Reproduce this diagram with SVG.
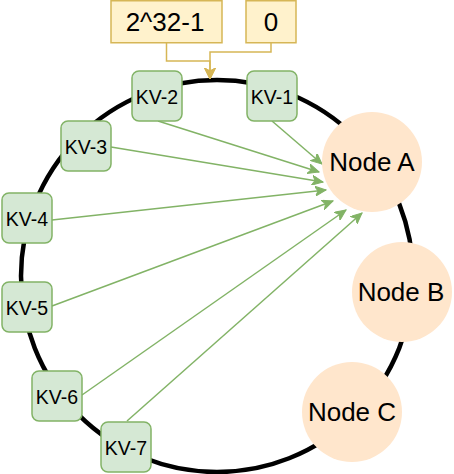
<svg xmlns="http://www.w3.org/2000/svg" width="454" height="474" viewBox="0 0 454 474">
<style>
.kv rect{fill:#d5e8d4;stroke:#82b366;stroke-width:1.5}
.lbl rect{fill:#fff2cc;stroke:#d6b656;stroke-width:1.5}
.node circle{fill:#ffe6cc;stroke:none}
text{font-family:"Liberation Sans",Arial,sans-serif;fill:#000;text-anchor:middle}
.kv text{font-size:19.5px}
.big{font-size:26px}
.g{stroke:#82b366;stroke-width:1.5;fill:none;marker-end:url(#ga)}
.y{stroke:#d6b656;stroke-width:1.5;fill:none}
</style>
<defs>
<marker id="ga" markerWidth="12" markerHeight="10" refX="11" refY="5" orient="auto" markerUnits="userSpaceOnUse">
<path d="M0,0 L11,5 L0,10 L3,5 Z" fill="#82b366" stroke="#82b366" stroke-width="1"/>
</marker>
<marker id="ya" markerWidth="12" markerHeight="12" refX="11" refY="5.5" orient="auto" markerUnits="userSpaceOnUse">
<path d="M0,0 L11,5.5 L0,11 L3,5.5 Z" fill="#d6b656" stroke="#d6b656" stroke-width="1"/>
</marker>
</defs>
<circle id="ring" cx="217" cy="276" r="196" fill="none" stroke="#000" stroke-width="4.5"/>
<g id="connectors">
<path class="y" d="M166.5,43 V61 H210 V79" marker-end="url(#ya)"/>
<path class="y" d="M271,43 V52 H210 V79" marker-end="url(#ya)"/>
<line class="g" x1="272" y1="121" x2="322" y2="164"/>
<line class="g" x1="158" y1="121" x2="319" y2="172"/>
<line class="g" x1="111" y1="147" x2="323" y2="182"/>
<line class="g" x1="52" y1="220" x2="326" y2="190"/>
<line class="g" x1="52" y1="306" x2="333" y2="201"/>
<line class="g" x1="82" y1="395" x2="346" y2="210"/>
<line class="g" x1="127" y1="421" x2="362" y2="213"/>
</g>
<g id="lbl-max" class="lbl"><rect x="111" y="0.75" width="111" height="42"/><text class="big" x="165" y="30.5">2^32-1</text></g>
<g id="lbl-zero" class="lbl"><rect x="246" y="0.75" width="50" height="42"/><text class="big" x="271" y="30.5">0</text></g>
<g id="kv1" class="kv"><rect x="247" y="71" width="50" height="50" rx="7"/><text x="272" y="104">KV-1</text></g>
<g id="kv2" class="kv"><rect x="132" y="71" width="50" height="50" rx="7"/><text x="157" y="104">KV-2</text></g>
<g id="kv3" class="kv"><rect x="61" y="121" width="50" height="50" rx="7"/><text x="86" y="154">KV-3</text></g>
<g id="kv4" class="kv"><rect x="2" y="193" width="50" height="50" rx="7"/><text x="27" y="226">KV-4</text></g>
<g id="kv5" class="kv"><rect x="2" y="282" width="50" height="50" rx="7"/><text x="27" y="315">KV-5</text></g>
<g id="kv6" class="kv"><rect x="32" y="371" width="50" height="50" rx="7"/><text x="57" y="404">KV-6</text></g>
<g id="kv7" class="kv"><rect x="101" y="422" width="50" height="50" rx="7"/><text x="126" y="455">KV-7</text></g>
<g id="nodeA" class="node"><circle cx="372" cy="162" r="50"/><text class="big" x="372" y="170.5">Node A</text></g>
<g id="nodeB" class="node"><circle cx="402" cy="292" r="50"/><text class="big" x="401" y="300.5">Node B</text></g>
<g id="nodeC" class="node"><circle cx="352" cy="412" r="50"/><text class="big" x="352" y="420.5">Node C</text></g>
</svg>
